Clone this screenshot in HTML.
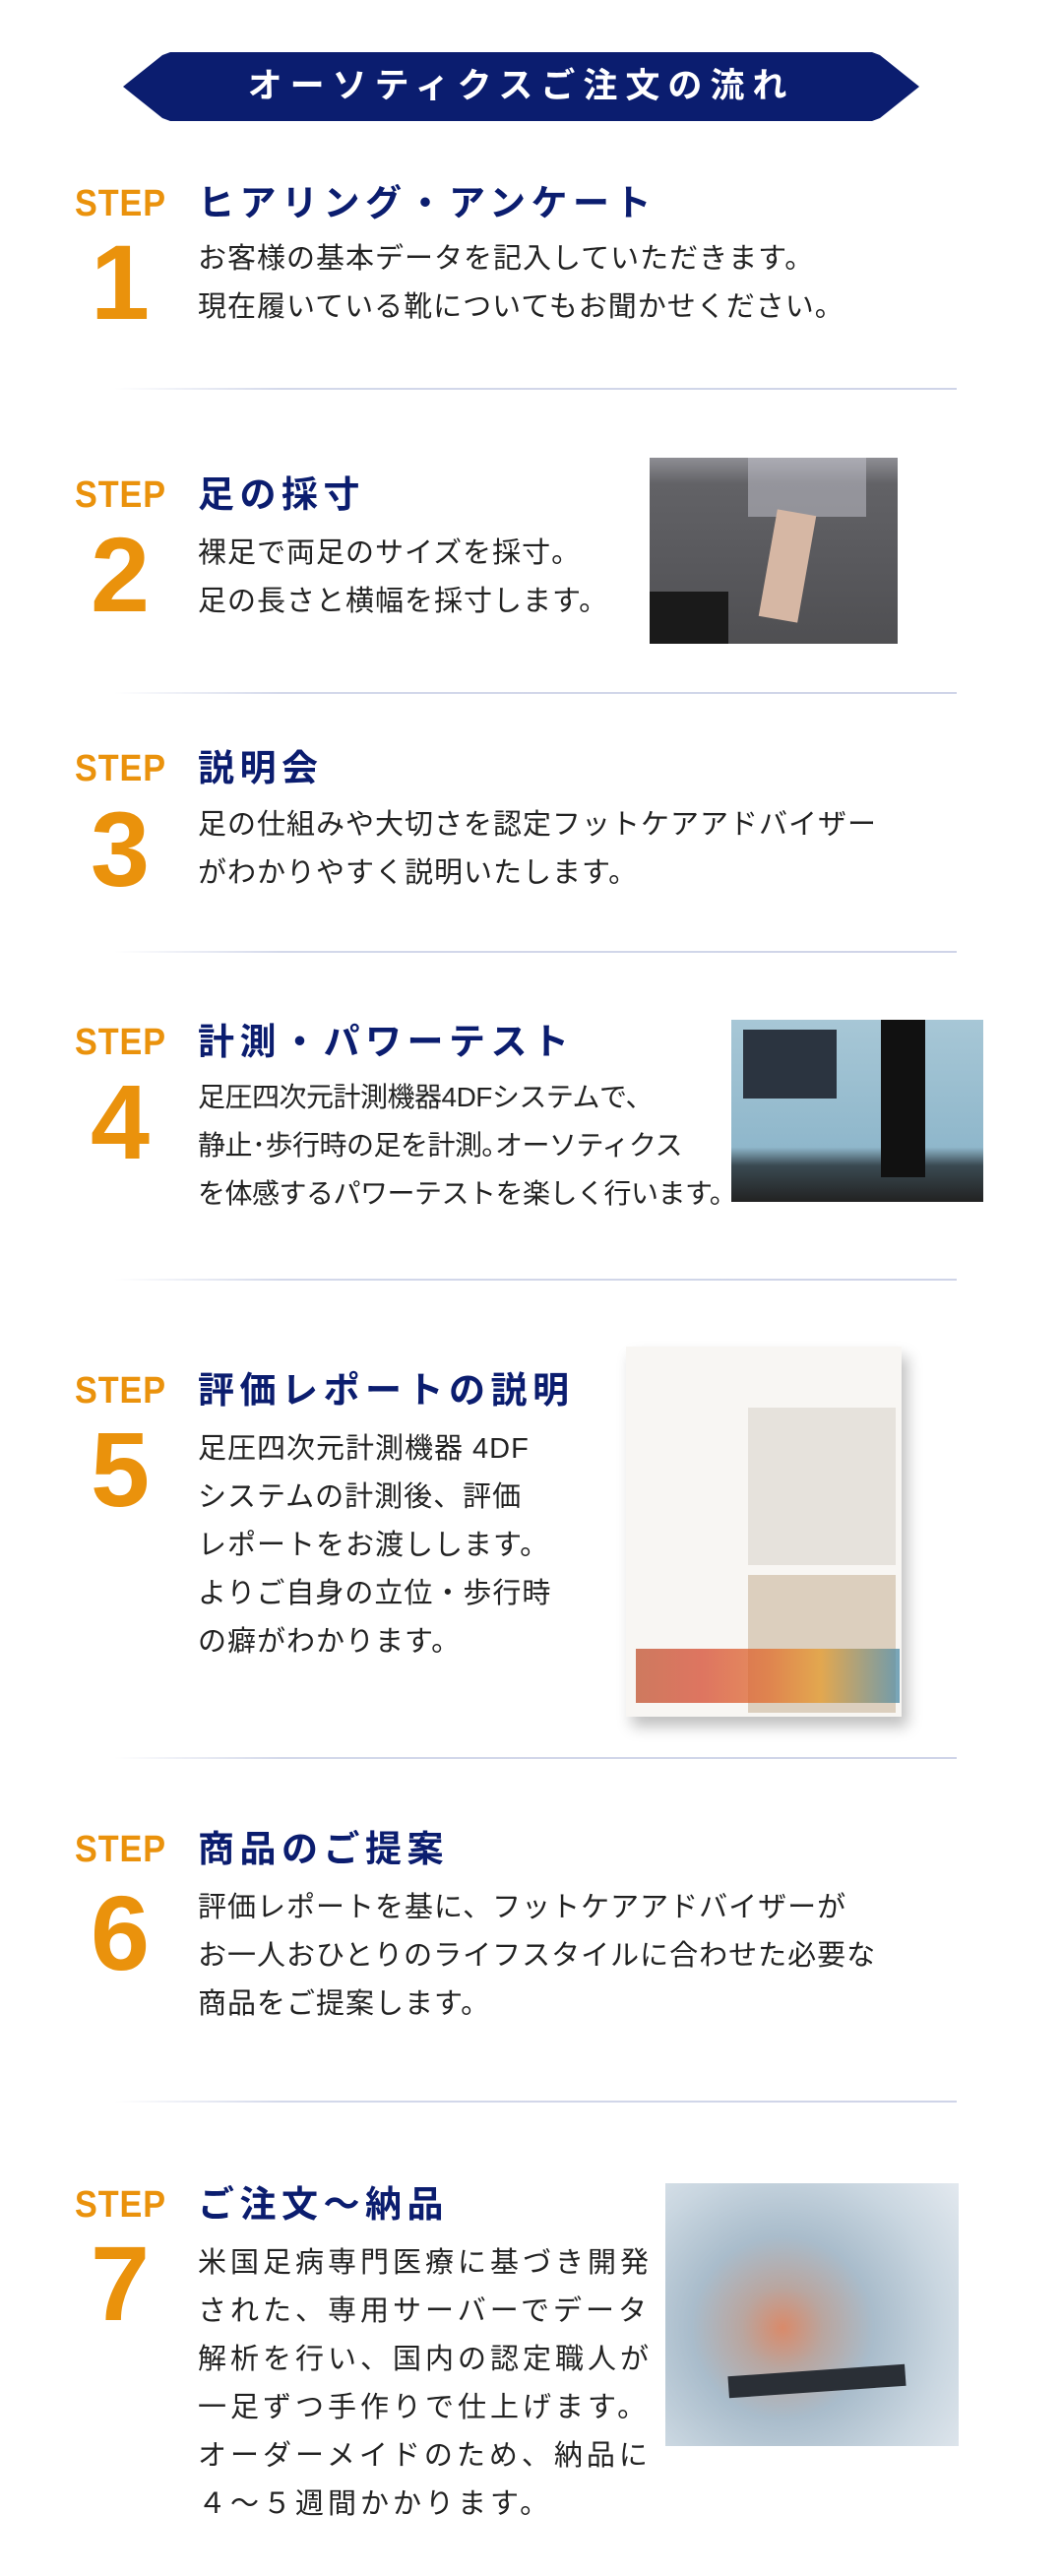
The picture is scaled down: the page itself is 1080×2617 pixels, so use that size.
<!DOCTYPE html>
<html><head><meta charset="utf-8">
<style>
body{margin:0;width:1080px;height:2617px;background:#fff;position:relative;overflow:hidden;font-family:"Liberation Sans","Noto Sans CJK JP",sans-serif;}
.a{position:absolute;white-space:nowrap;}
.banner{left:125px;top:53px;width:809px;height:70px;background:#0b1d6f;clip-path:polygon(0 50%,40px 3px,48px 0,761px 0,769px 3px,100% 50%,769px 67px,761px 100%,48px 100%,40px 67px);}
.btxt{left:125px;top:53px;width:809px;height:70px;line-height:70px;text-align:center;color:#fff;font-weight:bold;font-size:35px;letter-spacing:8px;}
.step{left:76px;color:#ea920c;font-weight:bold;font-size:38px;line-height:44px;letter-spacing:1px;font-family:"Liberation Sans",sans-serif;transform:scaleX(0.9);transform-origin:left;}
.title{left:201px;color:#0b1d6f;font-weight:bold;font-size:37px;line-height:44px;letter-spacing:5.5px;}
.num{left:80px;width:84px;text-align:center;color:#ea920c;font-size:108px;line-height:105px;font-weight:bold;font-family:"Liberation Sans",sans-serif;}
.desc{left:201px;color:#222;font-size:29px;line-height:49px;letter-spacing:1px;}
.sep{left:116px;width:856px;height:2px;background:linear-gradient(90deg,#fff,#d3d8ea 20%,#cfd4e8);}
</style></head><body>
<div class="a banner"></div>
<div class="a btxt">オーソティクスご注文の流れ</div>

<div class="a step" style="top:185px">STEP</div>
<div class="a title" style="top:185px">ヒアリング・アンケート</div>
<div class="a num" style="top:234px">1</div>
<div class="a desc" style="top:239px">お客様の基本データを記入していただきます。<br>現在履いている靴についてもお聞かせください。</div>
<div class="a sep" style="top:394px"></div>

<div class="a step" style="top:481px">STEP</div>
<div class="a title" style="top:481px">足の採寸</div>
<div class="a num" style="top:531px">2</div>
<div class="a desc" style="top:538px">裸足で両足のサイズを採寸。<br>足の長さと横幅を採寸します。</div>
<div class="a" style="left:660px;top:465px;width:252px;height:189px;background:linear-gradient(180deg,#8e8e94 0,#626266 14%,#58585c 60%,#4f4f52 100%);"></div>
<div class="a" style="left:760px;top:465px;width:120px;height:60px;background:rgba(200,200,210,.5)"></div>
<div class="a" style="left:780px;top:520px;width:40px;height:110px;background:#d6b7a4;transform:rotate(10deg)"></div>
<div class="a" style="left:660px;top:601px;width:80px;height:53px;background:#1a1a1a"></div>
<div class="a sep" style="top:703px"></div>

<div class="a step" style="top:759px">STEP</div>
<div class="a title" style="top:759px">説明会</div>
<div class="a num" style="top:810px">3</div>
<div class="a desc" style="top:814px">足の仕組みや大切さを認定フットケアアドバイザー<br>がわかりやすく説明いたします。</div>
<div class="a sep" style="top:966px"></div>

<div class="a step" style="top:1037px">STEP</div>
<div class="a title" style="top:1037px">計測・パワーテスト</div>
<div class="a num" style="top:1087px">4</div>
<div class="a desc" style="top:1090px;letter-spacing:-0.5px;font-size:28px">足圧四次元計測機器4DFシステムで、<br>静止･歩行時の足を計測｡オーソティクス<br>を体感するパワーテストを楽しく行います。</div>
<div class="a" style="left:743px;top:1036px;width:256px;height:185px;background:linear-gradient(180deg,#a7c7d6 0,#8fb7cb 70%,#3a4a52 80%,#222 100%);"></div>
<div class="a" style="left:755px;top:1046px;width:95px;height:70px;background:#2b3440"></div>
<div class="a" style="left:895px;top:1036px;width:45px;height:160px;background:#111"></div>
<div class="a sep" style="top:1299px"></div>

<div class="a step" style="top:1391px">STEP</div>
<div class="a title" style="top:1391px">評価レポートの説明</div>
<div class="a num" style="top:1440px">5</div>
<div class="a desc" style="top:1448px">足圧四次元計測機器 4DF<br>システムの計測後、評価<br>レポートをお渡しします。<br>よりご自身の立位・歩行時<br>の癖がわかります。</div>
<div class="a" style="left:636px;top:1368px;width:280px;height:376px;background:#f8f6f3;box-shadow:6px 10px 14px rgba(0,0,0,.25);"></div>
<div class="a" style="left:760px;top:1430px;width:150px;height:160px;background:#e6e2dc"></div>
<div class="a" style="left:760px;top:1600px;width:150px;height:140px;background:#dccfbe"></div>
<div class="a" style="left:646px;top:1675px;width:268px;height:55px;background:linear-gradient(90deg,#c0502d,#d54a2f 25%,#e06a2a 50%,#e59a2a 70%,#4a8aa8 100%);opacity:.75"></div>
<div class="a sep" style="top:1785px"></div>

<div class="a step" style="top:1857px">STEP</div>
<div class="a title" style="top:1857px">商品のご提案</div>
<div class="a num" style="top:1911px">6</div>
<div class="a desc" style="top:1914px">評価レポートを基に、フットケアアドバイザーが<br>お一人おひとりのライフスタイルに合わせた必要な<br>商品をご提案します。</div>
<div class="a sep" style="top:2134px"></div>

<div class="a step" style="top:2218px">STEP</div>
<div class="a title" style="top:2218px">ご注文～納品</div>
<div class="a num" style="top:2267px">7</div>
<div class="a desc" style="top:2275px;letter-spacing:4px">米国足病専門医療に基づき開発<br>された、専用サーバーでデータ<br>解析を行い、国内の認定職人が<br>一足ずつ手作りで仕上げます。<br>オーダーメイドのため、納品に<br>４～５週間かかります。</div>
<div class="a" style="left:676px;top:2218px;width:298px;height:267px;background:radial-gradient(circle at 40% 55%,#d98a6a 0,#b9a6a0 18%,#a9bccb 40%,#c9d6e0 70%,#e3e9ef 100%);"></div>
<div class="a" style="left:740px;top:2408px;width:180px;height:22px;background:#2a2f36;transform:rotate(-4deg)"></div>
</body></html>
